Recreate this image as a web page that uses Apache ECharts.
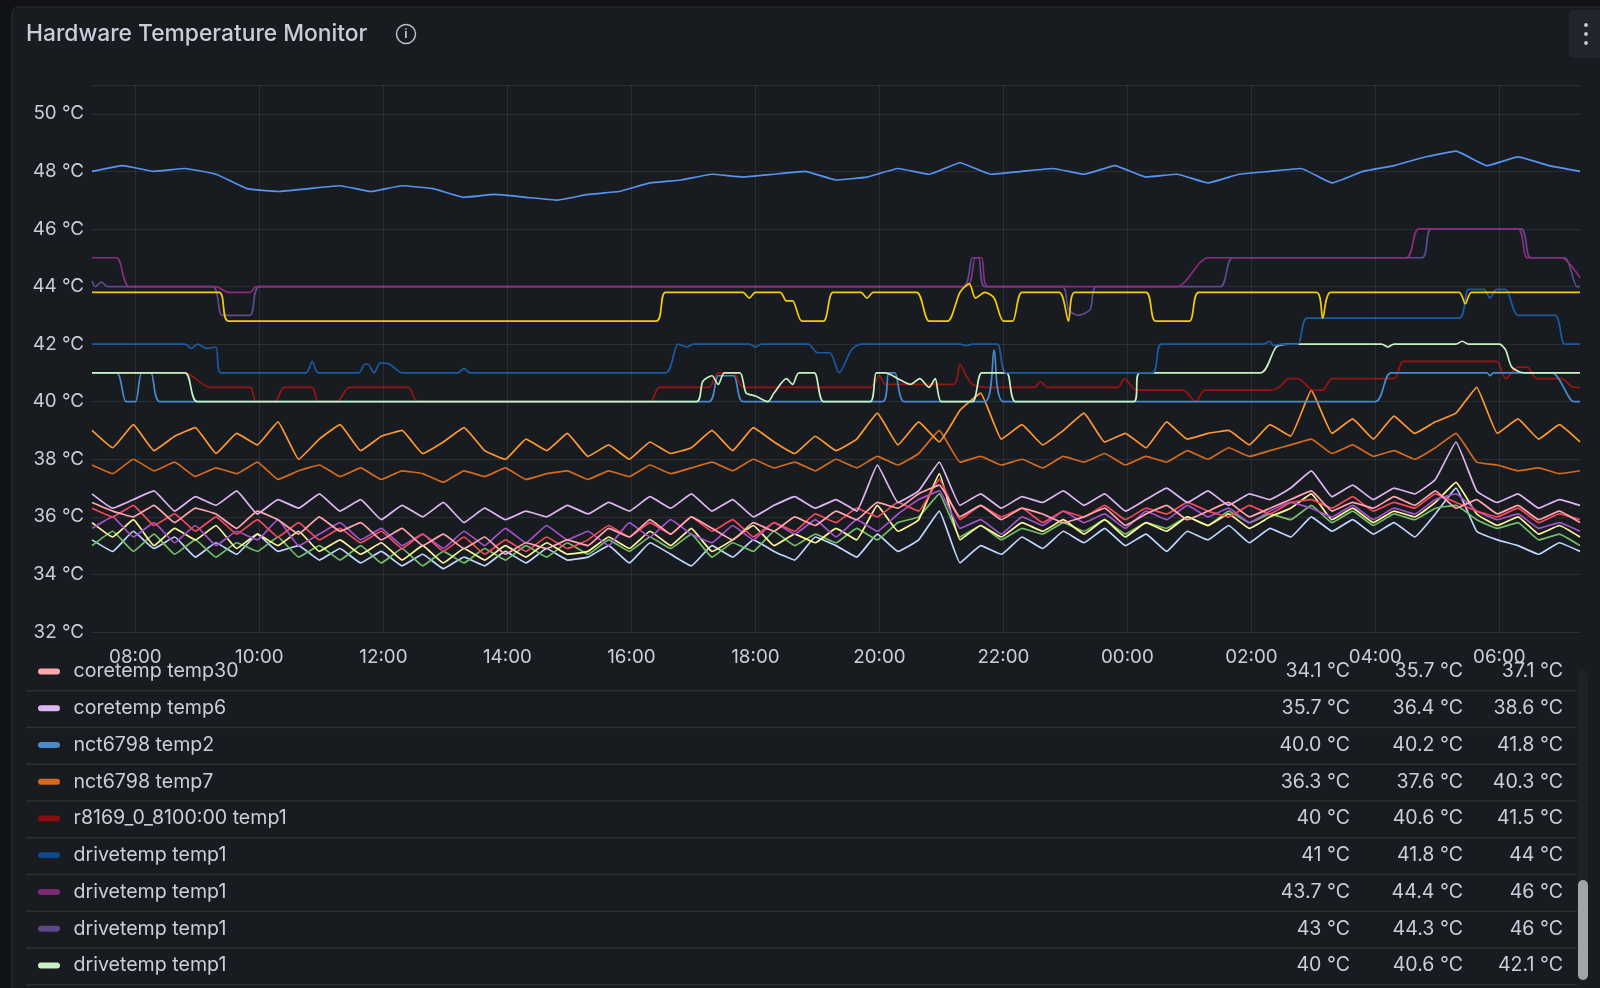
<!DOCTYPE html>
<html><head><meta charset="utf-8">
<script src="https://cdn.jsdelivr.net/npm/echarts@6/dist/echarts.min.js"></script>
<style>html,body{margin:0;padding:0;background:#111217;}#c{width:1600px;height:988px;}</style>
</head><body><div id="c"></div>
<script>
// ---- data ----
const xTicks = [8,10,12,14,16,18,20,22,24,26,28,30];
const tStart = 7.3, tEnd = 31.3;

const topBlue = [48.0,48.2,48.0,48.1,47.9,47.4,47.3,47.4,47.5,47.3,47.5,47.4,47.1,47.2,47.1,47.0,47.2,47.3,47.6,47.7,47.9,47.8,47.9,48.0,47.7,47.8,48.1,47.9,48.3,47.9,48.0,48.1,47.9,48.2,47.8,47.9,47.6,47.9,48.0,48.1,47.6,48.0,48.2,48.5,48.7,48.2,48.5,48.2,48.0];
const orangeBright = [39.0,38.4,39.2,38.3,38.8,39.1,38.2,38.9,38.5,39.3,38.0,38.7,
 39.2,38.3,38.8,39.0,38.2,38.6,39.1,38.3,38.0,38.7,38.3,38.9,
 38.1,38.5,38.0,38.6,38.2,38.4,39.0,38.3,39.1,38.6,38.2,38.8,
 38.3,38.7,39.6,38.5,39.3,38.6,39.7,40.3,38.7,39.2,38.5,39.0,
 39.6,38.6,38.9,38.4,39.3,38.7,38.9,39.0,38.5,39.2,38.8,40.4,
 38.9,39.4,38.7,39.5,38.9,39.3,39.6,40.5,38.9,39.4,38.7,39.2,38.6];
const nctTemp7 = [37.8,37.5,38.0,37.6,37.9,37.4,37.7,37.5,37.9,37.3,37.6,37.8,
 37.4,37.7,37.3,37.6,37.5,37.2,37.6,37.4,37.7,37.3,37.5,37.6,
 37.3,37.6,37.4,37.8,37.5,37.7,37.9,37.6,38.0,37.7,37.9,37.6,
 38.0,37.7,38.1,37.8,38.2,39.0,37.9,38.1,37.8,38.0,37.7,38.1,
 37.9,38.2,37.8,38.1,37.9,38.3,38.0,38.4,38.1,38.3,38.5,38.7,
 38.2,38.5,38.1,38.3,38.0,38.4,38.9,37.9,37.8,37.6,37.7,37.5,37.6];
const coreA = [36.5,36.2,36.0,36.4,35.8,36.3,36.1,35.6,36.2,35.9,35.4,36.0,
 35.5,35.8,35.2,35.6,35.0,35.4,34.9,35.3,34.7,35.1,34.9,35.2,
 35.0,35.6,35.3,35.9,35.4,36.0,35.6,35.2,35.8,35.5,36.0,35.7,
 36.2,35.9,36.5,36.3,36.8,37.1,36.0,36.4,35.9,36.3,36.1,35.8,
 36.0,36.3,35.7,36.1,36.4,35.9,36.2,36.5,36.0,36.3,36.6,36.9,
 36.2,36.5,36.3,36.7,36.4,36.9,36.3,36.6,36.1,36.4,35.9,36.2,35.8];
const coreB = [36.8,36.3,36.6,36.9,36.2,36.7,36.4,36.9,36.1,36.6,36.3,36.8,
 36.2,36.6,35.9,36.4,36.0,36.5,35.8,36.3,35.9,36.2,36.0,36.4,
 36.1,36.5,36.2,36.7,36.3,36.8,36.2,36.6,36.0,36.4,36.7,36.3,
 36.6,36.2,37.8,36.5,36.9,37.9,36.4,36.8,36.3,36.7,36.5,36.9,
 36.4,36.8,36.2,36.6,37.0,36.5,36.9,36.4,36.8,36.6,37.0,37.6,
 36.7,37.1,36.6,37.0,36.8,37.3,38.6,36.9,36.5,36.8,36.3,36.6,36.4];
const coreC = [35.2,34.8,35.5,34.9,35.3,34.6,35.1,34.7,35.4,34.8,35.0,34.5,
 34.9,34.4,34.8,34.3,34.7,34.2,34.6,34.3,34.8,34.4,34.9,34.5,
 34.6,35.0,34.4,35.1,34.7,34.3,35.0,34.6,35.2,34.8,34.5,35.3,
 35.0,34.6,35.4,34.8,35.2,36.2,34.4,35.0,34.7,35.3,34.9,35.5,
 35.1,35.6,35.0,35.4,34.8,35.5,35.2,35.7,35.1,35.6,35.3,36.0,
 35.5,35.9,35.4,35.8,35.3,36.1,37.0,35.5,35.2,35.0,34.7,35.1,34.8];
const coreD = [35.8,35.3,35.9,35.0,35.6,35.2,35.7,34.9,35.4,35.0,35.5,34.8,
 35.2,34.7,35.1,34.5,35.0,34.4,34.9,34.5,35.0,34.6,35.1,34.7,
 34.8,35.3,34.9,35.5,35.0,35.6,34.8,35.2,35.7,35.0,35.4,35.1,
 35.6,35.2,36.4,35.5,35.9,37.5,35.2,35.7,35.3,35.8,35.5,35.9,
 35.4,35.9,35.3,35.8,35.5,36.0,35.7,36.1,35.6,36.0,36.3,36.8,
 35.9,36.3,35.8,36.2,36.0,36.5,37.2,36.1,35.7,36.0,35.4,35.7,35.3];
const coreE = [36.3,36.0,36.4,35.7,36.1,35.5,36.0,35.4,35.9,35.3,35.8,35.2,
 35.6,35.1,35.5,34.9,35.4,34.8,35.3,34.7,35.2,34.8,35.3,34.9,
 35.2,35.7,35.3,35.8,35.4,36.0,35.5,35.9,35.3,35.8,35.5,36.1,
 35.8,36.3,36.0,36.5,36.2,37.3,35.9,36.4,36.0,36.3,35.8,36.2,
 36.0,36.4,35.9,36.3,36.1,36.5,36.2,36.0,36.4,36.1,36.5,36.6,
 36.3,36.7,36.2,36.5,36.3,36.8,36.5,36.2,36.0,36.3,35.8,36.1,35.9];
const coreF = [35.6,36.0,35.3,35.8,35.1,35.7,35.0,35.5,35.2,35.9,35.0,35.4,
 35.8,35.2,35.6,35.0,35.4,34.9,35.5,35.0,35.6,35.1,35.7,35.2,
 35.5,35.0,35.8,35.3,35.9,35.4,35.1,35.7,35.2,35.8,35.4,35.9,
 35.3,35.9,35.5,36.1,36.6,36.9,35.6,35.9,35.4,36.0,35.7,36.2,
 35.8,36.1,35.6,36.2,35.9,36.4,36.0,36.3,35.8,36.2,36.5,36.3,
 36.0,36.4,35.9,36.3,36.1,36.6,36.8,36.2,35.9,36.1,35.6,35.8,35.5];
const coreG = [35.0,35.5,34.8,35.4,34.7,35.2,34.6,35.1,34.8,35.3,34.6,35.0,
 34.5,35.0,34.4,34.9,34.3,34.8,34.4,34.9,34.5,35.0,34.6,35.1,
 34.7,35.2,34.8,35.3,34.9,35.4,34.6,35.1,34.8,35.5,35.0,35.4,
 35.1,35.6,35.2,35.8,36.0,36.8,35.3,35.7,35.2,35.6,35.4,35.8,
 35.5,35.9,35.4,35.8,35.6,36.0,35.7,36.2,35.8,36.1,35.9,36.4,
 35.8,36.2,35.7,36.1,35.9,36.3,36.4,35.9,35.6,35.8,35.2,35.4,35.0];

const yellowStep = [[7.3,43.8],[9.35,43.8],[9.5,42.8],[16.4,42.8],[16.55,43.8],[17.8,43.8],[17.9,43.6],[18.0,43.8],[18.4,43.8],[18.5,43.5],[18.6,43.5],[18.75,42.8],[19.1,42.8],[19.25,43.8],[19.7,43.8],[19.8,43.6],[19.9,43.8],[20.6,43.8],[20.8,42.8],[21.1,42.8],[21.3,43.8],[21.45,44.1],[21.55,43.6],[21.7,43.8],[21.85,43.6],[22.0,42.8],[22.15,42.8],[22.3,43.8],[22.9,43.8],[23.05,42.8],[23.15,43.8],[24.3,43.8],[24.45,42.8],[25.0,42.8],[25.15,43.8],[27.05,43.8],[27.15,42.9],[27.28,43.8],[29.35,43.8],[29.45,43.4],[29.55,43.8],[31.3,43.8]];
const magentaStep = [[7.3,45],[7.7,45],[7.9,44],[9.3,44],[9.5,43.8],[9.85,43.8],[9.95,44],[21.4,44],[21.55,45],[21.65,45],[21.75,44],[24.8,44],[25.3,45],[28.5,45],[28.7,46],[30.3,46],[30.45,45],[31.0,45],[31.3,44.3]];
const violetStep = [[7.3,44.2],[7.35,44.0],[7.45,44.15],[7.55,44],[9.25,44],[9.4,43.0],[9.85,43],[10.0,44],[21.35,44],[21.5,45],[21.6,45],[21.7,44],[22.95,44],[23.05,43.2],[23.2,43.0],[23.4,43.2],[23.5,44],[25.5,44],[25.7,45],[28.75,45],[28.9,46],[30.35,46],[30.5,45],[31.05,45],[31.25,44],[31.3,44]];
const darkBlueStep = [[7.3,42],[8.8,42],[8.9,41.85],[9.0,42],[9.15,41.85],[9.3,41.9],[9.38,41],[10.75,41],[10.85,41.4],[10.95,41],[11.6,41],[11.7,41.3],[11.75,41.3],[11.85,41],[11.95,41.35],[12.1,41.3],[12.3,41],[13.2,41],[13.3,41.15],[13.4,41],[16.55,41],[16.75,42],[16.9,41.9],[17.0,42],[17.9,42],[18.0,41.9],[18.1,42],[18.85,42],[19.0,41.7],[19.2,41.7],[19.35,41.0],[19.55,41.8],[19.7,42],[21.3,42],[21.4,41.95],[21.5,42],[21.9,42],[22.05,41],[24.4,41],[24.55,42],[26.2,42],[26.3,42.1],[26.35,41.95],[26.5,42],[26.75,42],[26.9,42.9],[29.35,42.9],[29.5,43.9],[29.75,43.9],[29.85,43.6],[29.95,43.9],[30.1,43.9],[30.3,43],[30.9,43],[31.05,42],[31.3,42]];
const nctTemp2Step = [[7.3,41],[7.7,41],[7.85,40],[8.0,40],[8.1,41],[8.25,41],[8.4,40],[17.25,40],[17.4,40.9],[17.65,40.9],[17.8,40],[20.05,40],[20.15,41],[20.25,41],[20.4,40],[21.7,40],[21.85,41.8],[22.0,40],[28.0,40],[28.25,41],[29.8,41],[29.85,40.9],[29.9,41],[30.85,41],[31.2,40],[31.3,40]];
const paleGreenStep = [[7.3,41],[8.8,41],[9.0,40],[17.05,40],[17.15,40.7],[17.3,40.9],[17.4,40.6],[17.5,41],[17.75,41],[17.85,40.3],[18.0,40.2],[18.2,40],[18.3,40.3],[18.5,40.8],[18.6,40.6],[18.7,41],[18.95,41],[19.1,40],[19.85,40],[19.95,41],[20.1,41],[20.3,40.8],[20.5,40.6],[20.65,40.8],[20.8,40.5],[20.9,40.8],[21.0,40],[21.5,40],[21.65,41],[22.05,41],[22.2,40],[24.1,40],[24.2,41],[26.15,41],[26.4,41.9],[26.6,42],[28.1,42],[28.2,41.9],[28.3,42],[29.3,42],[29.4,42.1],[29.5,42],[30.0,42],[30.1,41.8],[30.2,41.2],[30.4,41],[31.3,41]];
const redStep = [[7.3,41],[8.8,41],[9.2,40.5],[9.85,40.5],[9.95,40],[10.25,40],[10.4,40.5],[10.85,40.5],[10.95,40],[11.25,40],[11.45,40.5],[12.4,40.5],[12.55,40],[16.3,40],[16.45,40.5],[17.25,40.5],[17.4,41],[17.65,41],[17.8,40.5],[19.85,40.5],[20.0,40.9],[20.1,40.6],[21.2,40.6],[21.3,41.3],[21.4,40.9],[21.5,40.6],[21.8,40.5],[22.5,40.5],[22.6,40.7],[22.7,40.5],[23.85,40.5],[23.95,40.8],[24.15,40.4],[24.9,40.4],[25.1,40],[25.25,40.4],[26.3,40.4],[26.45,40.5],[26.6,40.8],[26.75,40.8],[27.0,40.4],[27.15,40.4],[27.3,40.8],[28.3,40.8],[28.45,41.4],[29.95,41.4],[30.1,40.8],[30.3,41.2],[30.45,41.2],[30.6,40.8],[31.0,40.8],[31.2,40.5],[31.3,40.5]];

const legendNames = ['coretemp temp30','coretemp temp6','nct6798 temp2','nct6798 temp7','r8169_0_8100:00 temp1','drivetemp temp1','drivetemp temp1','drivetemp temp1','drivetemp temp1'];
const legendColors = ['#FFA6B0','#DEB6F2','#4A88CC','#D46A1E','#8B0C0C','#0E4A8A','#7A2A72','#5B4A86','#C8F2C2'];
const legendMin = ['34.1 °C','35.7 °C','40.0 °C','36.3 °C','40 °C','41 °C','43.7 °C','43 °C','40 °C'];
const legendMean = ['35.7 °C','36.4 °C','40.2 °C','37.6 °C','40.6 °C','41.8 °C','44.4 °C','44.3 °C','40.6 °C'];
const legendMax = ['37.1 °C','38.6 °C','41.8 °C','40.3 °C','41.5 °C','44 °C','46 °C','46 °C','42.1 °C'];

// ---- build ----
function regular(vals, stepH){ return vals.map((v,i)=>[tStart+i*stepH, v]); }
function fmtHour(h){ const hh = ((Math.round(h)%24)+24)%24; return (hh<10?'0':'')+hh+':00'; }
const FONT = 'Inter, "Noto Sans", sans-serif';
const TXT = '#ccccdc';

const seriesDefs = [
 {d: regular(coreC,1/3), c:'#C0D8FF'},
 {d: regular(coreG,1/3), c:'#73BF69'},
 {d: regular(coreD,1/3), c:'#FFF899'},
 {d: regular(coreF,1/3), c:'#A352CC'},
 {d: regular(coreE,1/3), c:'#F2495C'},
 {d: regular(coreB,1/3), c:'#DEB6F2'},
 {d: regular(coreA,1/3), c:'#FFA6B0'},
 {d: regular(nctTemp7,1/3), c:'#D46A1E'},
 {d: regular(orangeBright,1/3), c:'#FF9830'},
 {d: redStep, c:'#9A1512', s:0.25},
 {d: nctTemp2Step, c:'#4A88CC', s:0.25},
 {d: paleGreenStep, c:'#C8F2C2', s:0.25},
 {d: darkBlueStep, c:'#1C5AA3', s:0.25},
 {d: violetStep, c:'#5E4A8C', s:0.25},
 {d: magentaStep, c:'#8A2D7F', s:0.25},
 {d: yellowStep, c:'#F2CC0C', s:0.25},
 {d: regular(topBlue,0.5), c:'#5794F2'}
];
const series = seriesDefs.map(o=>({type:'line', data:o.d, showSymbol:false, smooth:o.s||0.1,
  lineStyle:{width:1.7, color:o.c}, itemStyle:{color:o.c}, silent:true, animation:false}));
series.push({type:'line', data:[], silent:true, animation:false,
  markLine:{symbol:'none', silent:true, label:{show:false}, lineStyle:{color:'rgba(204,204,220,0.10)', type:'solid', width:1},
    data: xTicks.map(h=>({xAxis:h}))}});

const g = [];
g.push({type:'rect', shape:{x:12,y:7,width:1600,height:1000,r:6}, style:{fill:'#181b1f', stroke:'#2a2d35', lineWidth:1}, z:-10});
g.push({type:'text', x:26, y:34, style:{text:'Hardware Temperature Monitor', fill:TXT, font:'500 22.8px '+FONT, textVerticalAlign:'middle'}});
g.push({type:'circle', shape:{cx:406,cy:34,r:9.5}, style:{fill:'none', stroke:'#bdbdca', lineWidth:1.5}});
g.push({type:'text', x:406, y:34, style:{text:'i', fill:'#bdbdca', font:'bold 12px '+FONT, textAlign:'center', textVerticalAlign:'middle'}});
g.push({type:'rect', shape:{x:1569,y:10,width:40,height:48,r:4}, style:{fill:'#22252b'}});
[25,34,43].forEach(y=>g.push({type:'circle', shape:{cx:1586,cy:y,r:1.9}, style:{fill:TXT}}));
legendNames.forEach((n,i)=>{
  const y = 671.5 + i*36.75;
  g.push({type:'rect', shape:{x:38,y:y-3,width:22,height:6,r:3}, style:{fill:legendColors[i]}});
  g.push({type:'text', x:73.5, y:y, style:{text:n, fill:TXT, font:'19.6px '+FONT, textVerticalAlign:'middle'}});
  [[legendMin,1350],[legendMean,1463],[legendMax,1563]].forEach(([arr,x])=>
    g.push({type:'text', x:x, y:y, style:{text:arr[i], fill:TXT, font:'19.6px '+FONT, textAlign:'right', textVerticalAlign:'middle'}}));
  g.push({type:'rect', shape:{x:26,y:y+18.5,width:1551,height:1.5}, style:{fill:'#2c2f36'}});
});
g.push({type:'rect', shape:{x:1578,y:670,width:10,height:312,r:5}, style:{fill:'#202228'}});
g.push({type:'rect', shape:{x:1578,y:880,width:10,height:100,r:5}, style:{fill:'#a3a3a8'}});

const chart = echarts.init(document.getElementById('c'));
chart.setOption({
  backgroundColor:'#111217', animation:false,
  graphic: g,
  grid:{left:92, right:20, top:85, bottom:356, containLabel:false},
  xAxis:{type:'value', min:tStart, max:tEnd,
    axisLine:{show:false}, axisTick:{show:false}, splitLine:{show:false},
    axisLabel:{customValues:xTicks, formatter:v=>fmtHour(v), color:TXT, fontSize:18.8, fontFamily:FONT, margin:16}},
  yAxis:{type:'value', min:32, max:51, interval:2,
    axisLine:{show:false}, axisTick:{show:false},
    splitLine:{lineStyle:{color:'rgba(204,204,220,0.10)'}},
    axisLabel:{formatter:v=> v%2===0 && v<51 ? v+' °C' : '', color:TXT, fontSize:18.8, fontFamily:FONT, margin:8}},
  series: series
});
</script></body></html>
